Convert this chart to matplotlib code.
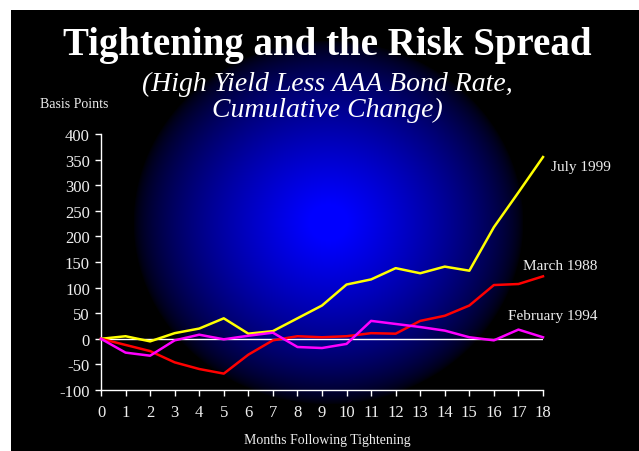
import numpy as np
import matplotlib
matplotlib.use("Agg")
import matplotlib.pyplot as plt

plt.rcParams['font.family'] = ['Liberation Serif', 'DejaVu Serif']
plt.rcParams['axes.unicode_minus'] = False

months = list(range(19))
july_1999 = [0, 5, -5, 11, 20, 40, 10, 15, 40, 65, 106, 116, 138, 128, 141, 133, 218, 286, 355]
march_1988 = [0, -12, -24, -46, -59, -68, -31, -3, 5, 3, 5, 11, 10, 35, 45, 65, 105, 107, 122]
february_1994 = [0, -27, -33, -3, 8, -1, 6, 12, -16, -18, -10, 35, 29, 23, 16, 3, -3, 18, 3]
y_ticks = list(range(-100, 401, 50))

W, H = 639, 452
fig = plt.figure(figsize=(W / 100, H / 100), dpi=100, facecolor='white')

# black panel with radial blue glow
bx0, by0 = 11, 11
bg = fig.add_axes([bx0 / W, 0, 1 - bx0 / W, 1 - by0 / H])
bg.set_axis_off()
pw, ph = W - bx0, H - by0
xx, yy = np.meshgrid(np.arange(pw) + bx0, np.arange(ph) + by0)
cx, cy, rx, ry = 328, 223, 195, 182
r = np.sqrt(((xx - cx) / rx) ** 2 + ((yy - cy) / ry) ** 2)
blue = np.clip((1 - r) / 0.9, 0, 1) ** 0.65
img = np.zeros((ph, pw, 3))
img[..., 2] = blue
bg.imshow(img, aspect='auto', extent=[0, 1, 0, 1], interpolation='bilinear')
bg.set_xlim(0, 1)
bg.set_ylim(0, 1)

# plot area
x0, x1 = 101, 543
y0, y1 = 135, 391
ax = fig.add_axes([x0 / W, 1 - y1 / H, (x1 - x0) / W, (y1 - y0) / H])
ax.patch.set_visible(False)
ax.set_xlim(0, 18)
ax.set_ylim(-100, 400)
ax.set_xticks(months)
ax.set_yticks(y_ticks)
for s in ['top', 'right']:
    ax.spines[s].set_visible(False)
for s in ['left', 'bottom']:
    ax.spines[s].set_color('white')
    ax.spines[s].set_linewidth(1.0)
ax.tick_params(colors='white', labelcolor='#eeeeee', length=4, width=1,
               labelsize=12)
ax.tick_params(axis='x', pad=6)
ax.tick_params(axis='y', pad=4)

ax.axhline(0, color='white', lw=1.0, zorder=1)
ax.plot(months, july_1999, color='#ffff00', lw=1.8, zorder=3, clip_on=False)
ax.plot(months, march_1988, color='#ff0000', lw=1.8, zorder=3, clip_on=False)
ax.plot(months, february_1994, color='#ff00ff', lw=1.8, zorder=3, clip_on=False)

lab = dict(color='#eeeeee', fontsize=11, va='center', ha='left', clip_on=False)
ax.text(18.32, 336, 'July 1999', **lab)
ax.text(17.18, 143, 'March 1988', **lab)
ax.text(16.57, 45, 'February 1994', **lab)

fig.text(327 / W, 1 - 45 / H, 'Tightening and the Risk Spread', color='white',
         fontsize=28, fontweight='bold', ha='center', va='center')
fig.text(327 / W, 1 - 84 / H, '(High Yield Less AAA Bond Rate,', color='white',
         fontsize=20, style='italic', ha='center', va='center')
fig.text(327 / W, 1 - 110 / H, 'Cumulative Change)', color='white',
         fontsize=20, style='italic', ha='center', va='center')
fig.text(74 / W, 1 - 105 / H, 'Basis Points', color='#eeeeee', fontsize=10,
         ha='center', va='center')
fig.text(327 / W, 1 - 441 / H, 'Months Following Tightening', color='#eeeeee',
         fontsize=10, ha='center', va='center')

fig.savefig('out.png', dpi=100, facecolor='white')
